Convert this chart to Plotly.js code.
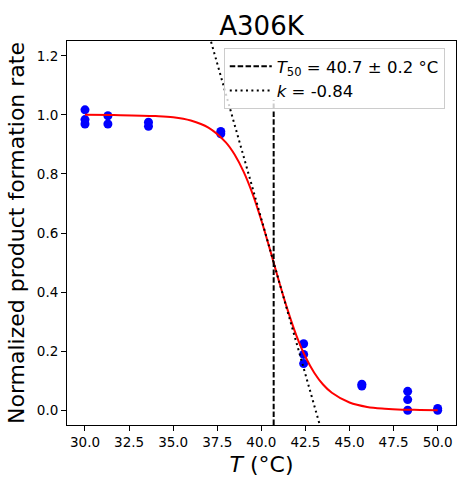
<!DOCTYPE html>
<html>
<head>
<meta charset="utf-8">
<script src="https://cdn.plot.ly/plotly-3.0.1.min.js"></script>
<style>html,body{margin:0;padding:0;background:#fff;}#chart{width:464px;height:487px;}</style>
</head>
<body>
<div id="chart"></div>
<script>
// Measured data points
const tempC = [30, 30, 30, 31.3, 31.3, 33.6, 33.6, 37.7, 37.7, 42.4, 42.4, 42.4, 45.7, 45.7, 48.3, 48.3, 48.3, 50, 50];
const rate  = [1.017, 0.984, 0.969, 0.997, 0.969, 0.975, 0.961, 0.944, 0.936, 0.225, 0.189, 0.158, 0.088, 0.082, 0.064, 0.036, 0.0, 0.006, 0.0];

// Fitted curve
const fitT = [30, 32, 34, 35, 36, 37, 38, 38.5, 39, 39.5, 40, 40.5, 41, 41.5, 42, 42.5, 43, 43.5, 44, 45, 46, 47, 48, 49, 50];
const fitY = [1.000, 0.999, 0.996, 0.992, 0.981, 0.957, 0.906, 0.864, 0.807, 0.733, 0.643, 0.542, 0.437, 0.338, 0.251, 0.181, 0.127, 0.087, 0.059, 0.026, 0.011, 0.005, 0.002, 0.001, 0.000];

// T50 marker line
const t50T = [40.7, 40.7];
const t50Y = [-0.05, 1.05];

// Tangent (slope) line
const tanT = [36.9, 43.6];
const tanY = [1.30, -0.11];

const xTicks = [30, 32.5, 35, 37.5, 40, 42.5, 45, 47.5, 50];
const yTicks = [0, 0.2, 0.4, 0.6, 0.8, 1.0, 1.2];

const legendT50 = '<i>T</i><sub>50</sub> = 40.7 ± 0.2 °C';
const legendK = '<i>k</i> = -0.84';
const titleText = 'A306K';

const FONT = 'DejaVu Sans, sans-serif';

const traces = [
  {x: tempC, y: rate, type: 'scatter', mode: 'markers', showlegend: false,
   marker: {color: '#0000ff', size: 9}, hoverinfo: 'skip'},
  {x: fitT, y: fitY, type: 'scatter', mode: 'lines', showlegend: false,
   line: {color: '#ff0000', width: 2, shape: 'spline', smoothing: 1}},
  {x: t50T, y: t50Y, type: 'scatter', mode: 'lines', name: legendT50,
   line: {color: '#000000', width: 2, dash: '5.5px,2.4px'}},
  {x: tanT, y: tanY, type: 'scatter', mode: 'lines', name: legendK,
   line: {color: '#000000', width: 2, dash: '2px,3.4px'}}
];

const axisCommon = {
  showline: true, linecolor: '#000', linewidth: 1, mirror: true,
  ticks: 'outside', ticklen: 5, tickwidth: 1, tickcolor: '#000',
  showgrid: false, zeroline: false,
  tickfont: {family: FONT, size: 13.5, color: '#000'}
};

const layout = {
  width: 464, height: 487,
  margin: {l: 67, r: 8, t: 41, b: 62, pad: 0},
  paper_bgcolor: '#fff', plot_bgcolor: '#fff',
  font: {family: FONT, color: '#000'},
  title: {text: titleText, font: {family: FONT, size: 26, color: '#000'},
          x: 0.5, xref: 'paper', xanchor: 'center', y: 1, yref: 'paper', yanchor: 'bottom', pad: {b: 6}},
  xaxis: Object.assign({}, axisCommon, {
    range: [28.98, 51.04], tickvals: xTicks, tickformat: '.1f',
    title: {text: '<i>T</i> (°C)', font: {family: FONT, size: 22, color: '#000'}, standoff: 7}
  }),
  yaxis: Object.assign({}, axisCommon, {
    range: [-0.05, 1.25], tickvals: yTicks, tickformat: '.1f',
    title: {text: 'Normalized product formation rate', font: {family: FONT, size: 22, color: '#000'}, standoff: 6}
  }),
  legend: {x: 0.403, y: 0.982, xanchor: 'left', yanchor: 'top',
           bgcolor: 'rgba(255,255,255,0.8)', bordercolor: '#cccccc', borderwidth: 1,
           itemwidth: 42,
           font: {family: FONT, size: 16.5, color: '#000'}},
  showlegend: true
};

Plotly.newPlot('chart', traces, layout, {displayModeBar: false, staticPlot: true});
</script>
</body>
</html>
